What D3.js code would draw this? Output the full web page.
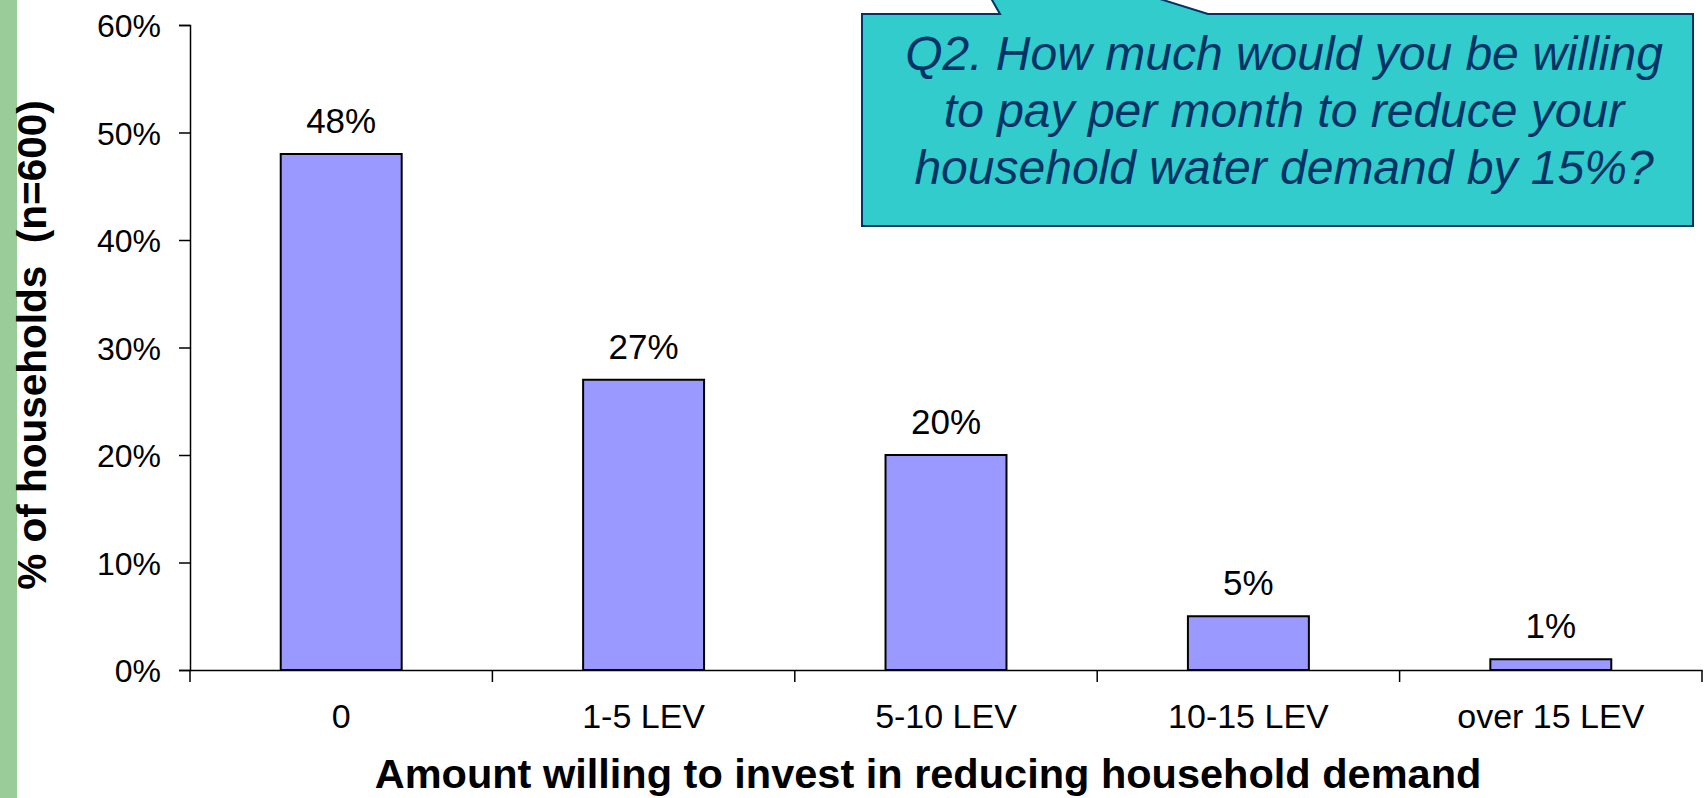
<!DOCTYPE html>
<html>
<head>
<meta charset="utf-8">
<script src="https://cdn.jsdelivr.net/npm/d3@7/dist/d3.min.js"></script>
<style>
  html, body { margin: 0; padding: 0; background: #ffffff; }
  svg { display: block; }
  text { font-family: "Liberation Sans", Arial, sans-serif; }
</style>
</head>
<body>
<svg id="chart" width="1708" height="798"></svg>
<script>
// Survey answers: share of households by monthly amount they would pay
const categories = ["0", "1-5 LEV", "5-10 LEV", "10-15 LEV", "over 15 LEV"];
const shares = [48, 27, 20, 5, 1];
const yTicks = [0, 10, 20, 30, 40, 50, 60];
const questionLines = [
  "Q2. How much would you be willing",
  "to pay per month to reduce your",
  "household water demand by 15%?"
];
const xTitle = "Amount willing to invest in reducing household demand";
const yTitle = "% of households  (n=600)";

const svg = d3.select("#chart");

// green strip on the left edge of the slide
svg.append("rect")
  .attr("x", 0).attr("y", 0)
  .attr("width", 17).attr("height", 798)
  .attr("fill", "#99CC99");

const x = d3.scaleBand()
  .domain(categories)
  .range([190, 1702])
  .paddingInner(0.6)
  .paddingOuter(0.3);

const y = d3.scaleLinear()
  .domain([0, 60])
  .range([670, 25]);

// bars
svg.append("g")
  .selectAll("rect")
  .data(shares)
  .join("rect")
  .attr("x", (d, i) => x(categories[i]))
  .attr("y", d => y(d))
  .attr("width", x.bandwidth())
  .attr("height", d => y(0) - y(d))
  .attr("fill", "#9999FF")
  .attr("stroke", "#000000")
  .attr("stroke-width", 2);

// value labels above bars
svg.append("g")
  .selectAll("text")
  .data(shares)
  .join("text")
  .attr("x", (d, i) => x(categories[i]) + x.bandwidth() / 2)
  .attr("y", d => y(d) - 21)
  .attr("text-anchor", "middle")
  .attr("font-size", 35)
  .attr("fill", "#000000")
  .text(d => d + "%");

// y axis
const yAxis = svg.append("g")
  .attr("transform", "translate(190,0)")
  .call(d3.axisLeft(y)
    .tickValues(yTicks)
    .tickSize(11)
    .tickPadding(18)
    .tickFormat(d => d + "%"));
yAxis.select(".domain").attr("stroke", "#000").attr("stroke-width", 1.5);
yAxis.selectAll(".tick line").attr("stroke", "#000").attr("stroke-width", 1.5);
yAxis.selectAll(".tick text")
  .attr("font-family", "Liberation Sans, Arial, sans-serif")
  .attr("font-size", 32)
  .attr("fill", "#000")
  .attr("dy", "0.36em");

// x axis (labels centred in bands)
const xAxis = svg.append("g")
  .attr("transform", "translate(0,670)")
  .call(d3.axisBottom(x).tickSize(0).tickSizeOuter(0));
xAxis.select(".domain").attr("stroke", "#000").attr("stroke-width", 1.5);
xAxis.selectAll(".tick text")
  .attr("font-family", "Liberation Sans, Arial, sans-serif")
  .attr("font-size", 34)
  .attr("fill", "#000")
  .attr("y", 58)
  .attr("dy", 0);

// x tick marks at category boundaries
const step = x.step();
const boundaries = categories.map(c => x(c) + x.bandwidth() / 2 - step / 2)
  .concat([x(categories[categories.length - 1]) + x.bandwidth() / 2 + step / 2]);
svg.append("g")
  .selectAll("line")
  .data(boundaries)
  .join("line")
  .attr("x1", d => d).attr("x2", d => d)
  .attr("y1", 670).attr("y2", 682)
  .attr("stroke", "#000")
  .attr("stroke-width", 1.5);

// axis titles
svg.append("text")
  .attr("x", 928)
  .attr("y", 788)
  .attr("text-anchor", "middle")
  .attr("font-size", 41.5)
  .attr("font-weight", "bold")
  .attr("fill", "#000")
  .text(xTitle);

svg.append("text")
  .attr("transform", "translate(46,345) rotate(-90)")
  .attr("text-anchor", "middle")
  .attr("font-size", 40.5)
  .attr("font-weight", "bold")
  .attr("fill", "#000")
  .style("white-space", "pre")
  .text(yTitle);

// speech-bubble callout with the survey question
const bubble = svg.append("g");
bubble.append("path")
  .attr("d", "M862,14 L1000,14 L955,-65 L1208,14 L1693,14 L1693,226 L862,226 Z")
  .attr("fill", "#33CCCC")
  .attr("stroke", "#003366")
  .attr("stroke-width", 2)
  .attr("stroke-linejoin", "miter");

bubble.append("g")
  .selectAll("text")
  .data(questionLines)
  .join("text")
  .attr("x", 1284)
  .attr("y", (d, i) => 70 + i * 57)
  .attr("text-anchor", "middle")
  .attr("font-size", 48)
  .attr("font-style", "italic")
  .attr("fill", "#003366")
  .text(d => d);
</script>
</body>
</html>
